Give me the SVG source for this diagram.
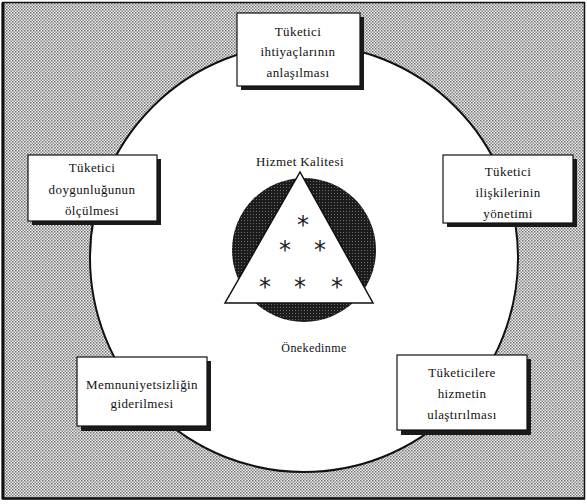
<svg xmlns="http://www.w3.org/2000/svg" width="587" height="504" viewBox="0 0 587 504">
  <style>
    .t { font-family: "Liberation Serif", "DejaVu Serif", "Times New Roman", serif; font-size: 13px; fill: #111; text-anchor: middle; letter-spacing: 0.4px; }
    .box { fill: #ffffff; stroke: #111; stroke-width: 1.2; }
    .shadow { fill: #1a1a1a; }
    .ast { font-family: "DejaVu Sans", sans-serif; font-size: 24px; fill: #222; text-anchor: middle; }
  </style>
  <defs>
    <pattern id="halftone" width="3" height="3" patternUnits="userSpaceOnUse">
      <rect width="3" height="3" fill="#f0f0f0"/>
      <rect x="0" y="0" width="1.5" height="1.5" fill="#6e6e6e"/>
      <rect x="1.5" y="1.5" width="1.5" height="1.5" fill="#8a8a8a"/>
    </pattern>
    <pattern id="dark" width="3" height="3" patternUnits="userSpaceOnUse">
      <rect width="3" height="3" fill="#1c1c1c"/>
      <rect x="1" y="1" width="1" height="1" fill="#6a6a6a"/>
    </pattern>
  </defs>

  <g id="background">
    <rect x="0" y="0" width="587" height="504" fill="#ffffff"/>
    <rect x="2.5" y="2.5" width="582" height="496" fill="url(#halftone)" stroke="#111" stroke-width="1.5"/>
    <line x1="3" y1="3" x2="3" y2="499" stroke="#111" stroke-width="3"/>
    <line x1="2" y1="498.5" x2="585" y2="498.5" stroke="#111" stroke-width="2.5"/>
  </g>

  <g id="ring">
    <circle cx="304" cy="258" r="214" fill="#ffffff" stroke="#111" stroke-width="2"/>
  </g>

  <g id="connectors"></g>

  <g id="center">
    <circle cx="304" cy="250" r="72" fill="url(#dark)"/>
    <polygon points="300,172 225,303 373,303" fill="#ffffff" stroke="#111" stroke-width="1.5"/>
    <text class="t" x="300" y="166">Hizmet Kalitesi</text>
    <text class="ast" x="303" y="233">*</text>
    <text class="ast" x="285" y="258">*</text>
    <text class="ast" x="320" y="258">*</text>
    <text class="ast" x="265" y="295">*</text>
    <text class="ast" x="300" y="295">*</text>
    <text class="ast" x="337" y="295">*</text>
    <text class="t" x="314" y="352" style="font-size:12px">Önekedinme</text>
  </g>

  <g id="node-top">
    <rect class="shadow" x="241" y="17" width="123" height="73"/>
    <rect class="box" x="237" y="13" width="123" height="73"/>
    <text class="t" x="298" y="36">Tüketici</text>
    <text class="t" x="298" y="56">ihtiyaçlarının</text>
    <text class="t" x="298" y="77">anlaşılması</text>
  </g>

  <g id="node-left">
    <rect class="shadow" x="32" y="159" width="129" height="66"/>
    <rect class="box" x="28" y="155" width="129" height="66"/>
    <text class="t" x="92" y="172">Tüketici</text>
    <text class="t" x="92" y="194">doygunluğunun</text>
    <text class="t" x="92" y="215">ölçülmesi</text>
  </g>

  <g id="node-right">
    <rect class="shadow" x="447" y="159" width="130" height="68"/>
    <rect class="box" x="443" y="155" width="130" height="68"/>
    <text class="t" x="508" y="176">Tüketici</text>
    <text class="t" x="508" y="197">ilişkilerinin</text>
    <text class="t" x="508" y="218">yönetimi</text>
  </g>

  <g id="node-bottom-left">
    <rect class="shadow" x="81" y="361" width="130" height="70"/>
    <rect class="box" x="77" y="357" width="130" height="69"/>
    <text class="t" x="142" y="389">Memnuniyetsizliğin</text>
    <text class="t" x="142" y="408">giderilmesi</text>
  </g>

  <g id="node-bottom-right">
    <rect class="shadow" x="401" y="359" width="130" height="76"/>
    <rect class="box" x="397" y="355" width="130" height="75"/>
    <text class="t" x="462" y="377">Tüketicilere</text>
    <text class="t" x="462" y="398">hizmetin</text>
    <text class="t" x="462" y="419">ulaştırılması</text>
  </g>
</svg>
